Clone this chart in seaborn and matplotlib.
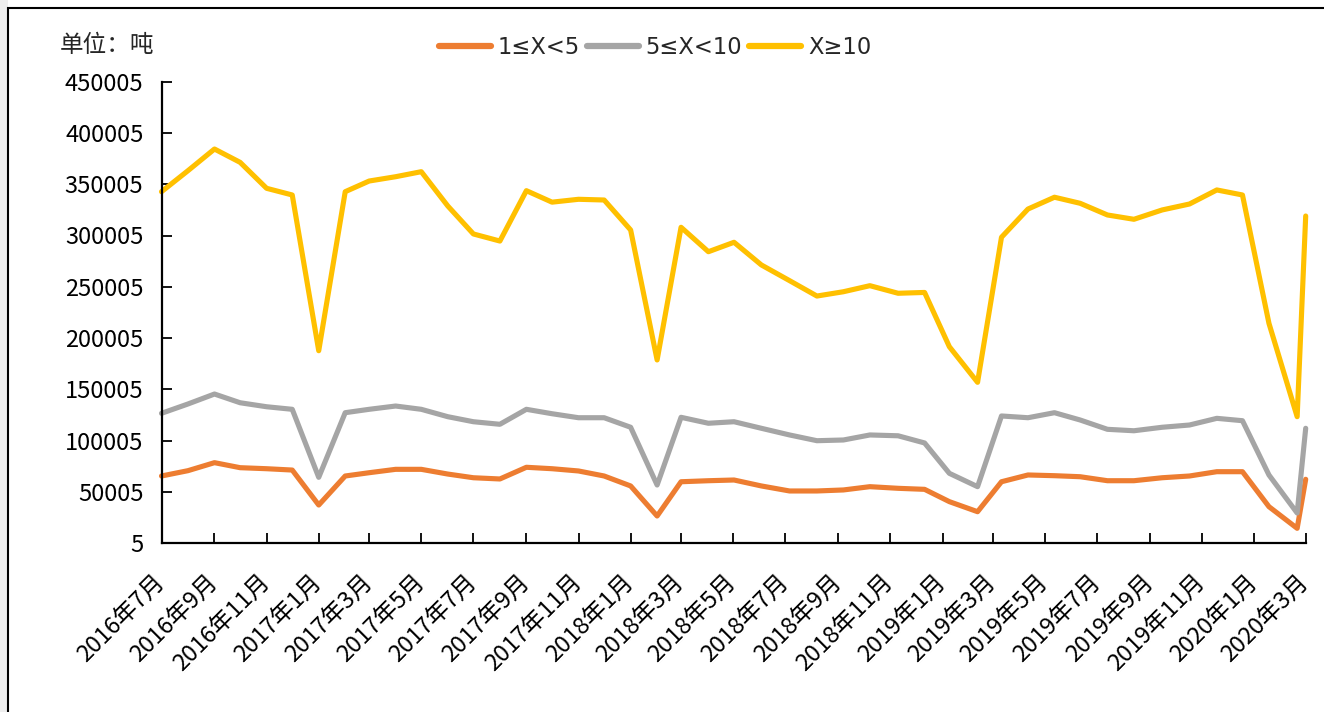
import matplotlib
matplotlib.use("Agg")
import matplotlib.pyplot as plt
from matplotlib.patches import Rectangle
import seaborn as sns
import pandas as pd
import numpy as np

# ---------------- data ----------------
dates = [
    "2016-07-01", "2016-08-01", "2016-09-01", "2016-10-01", "2016-11-01", "2016-12-01",
    "2017-01-01", "2017-02-01", "2017-03-01", "2017-04-01", "2017-05-01", "2017-06-01",
    "2017-07-01", "2017-08-01", "2017-09-01", "2017-10-01", "2017-11-01", "2017-12-01",
    "2018-01-01", "2018-02-01", "2018-03-01", "2018-04-02", "2018-05-02", "2018-06-03",
    "2018-07-06", "2018-08-07", "2018-09-07", "2018-10-08", "2018-11-10", "2018-12-11",
    "2019-01-09", "2019-02-11", "2019-03-11", "2019-04-11", "2019-05-12", "2019-06-11",
    "2019-07-13", "2019-08-13", "2019-09-15", "2019-10-17", "2019-11-18", "2019-12-18",
    "2020-01-18", "2020-02-20", "2020-03-01",
]
s_small = [65600, 70800, 78600, 73700, 72700, 71400, 37300, 65600, 68800, 72100, 72100, 67500,
           63900, 62700, 74100, 72700, 70500, 65600, 55900, 26600, 60000, 61000, 61700, 55900,
           51000, 51000, 52000, 55200, 53600, 52600, 40600, 30800, 60000, 66600, 65900, 64900,
           61000, 61000, 63900, 65600, 69800, 69800, 35700, 14600, 62400]
s_mid = [126700, 135800, 145500, 137000, 133100, 130600, 64300, 127300, 130600, 133800, 130600, 123400,
         118500, 116000, 130600, 126300, 122400, 122400, 113100, 56800, 122800, 117000, 118500, 112100,
         105600, 100000, 100700, 105600, 104800, 97800, 68200, 55200, 124100, 122400, 127300, 120200,
         111100, 109700, 113100, 115300, 121800, 119500, 66600, 29500, 112100]
s_large = [342700, 363200, 384300, 371300, 346000, 339500, 187700, 342700, 353100, 357300, 362200, 328800,
           301500, 294600, 343700, 332500, 335300, 334600, 305400, 178700, 308000, 284200, 293400, 271300,
           256000, 241000, 245200, 251100, 243700, 244500, 191600, 156900, 298300, 325800, 337300, 331400,
           320000, 315800, 324900, 330700, 344400, 339500, 214400, 123400, 319000]
series_names = ["1≤X<5", "5≤X<10", "X≥10"]
series_colors = ["#ED7D31", "#A5A5A5", "#FFC000"]

tick_dates = [
    "2016-07-01", "2016-09-01", "2016-11-01", "2017-01-01", "2017-03-01", "2017-05-01",
    "2017-07-01", "2017-09-01", "2017-11-01", "2018-01-01", "2018-03-01", "2018-05-01",
    "2018-07-01", "2018-09-01", "2018-11-01", "2019-01-01", "2019-03-01", "2019-05-01",
    "2019-07-01", "2019-09-01", "2019-11-01", "2020-01-01", "2020-03-01",
]
tick_labels = [
    "2016年7月", "2016年9月", "2016年11月", "2017年1月", "2017年3月", "2017年5月",
    "2017年7月", "2017年9月", "2017年11月", "2018年1月", "2018年3月", "2018年5月",
    "2018年7月", "2018年9月", "2018年11月", "2019年1月", "2019年3月", "2019年5月",
    "2019年7月", "2019年9月", "2019年11月", "2020年1月", "2020年3月",
]
y_ticks = [5, 50005, 100005, 150005, 200005, 250005, 300005, 350005, 400005, 450005]
unit_label = "单位：吨"

# ---------------- styling ----------------
sns.set_style("ticks")
FONT = ["Noto Sans CJK SC", "DejaVu Sans"]
plt.rcParams["font.family"] = FONT
plt.rcParams["axes.unicode_minus"] = False
FS = 17

W, H = 1324, 712
fig = plt.figure(figsize=(W / 100, H / 100), dpi=100)
fig.patch.set_facecolor("white")

# outer frame like the screenshot
fig.patches.append(Rectangle((0, 0), 8 / W, 1, transform=fig.transFigure,
                             facecolor="#eeeeee", edgecolor="none", zorder=-10))
fig.patches.append(Rectangle((8 / W, -0.1), 1.2, 1.1 - 8 / H, transform=fig.transFigure,
                             facecolor="white", edgecolor="black", linewidth=1.5, zorder=-9))

ax = fig.add_axes([161.5 / W, 1 - 543.3 / H, (1305.7 - 161.5) / W, (543.3 - 81.6) / H])
ax.set_zorder(5)
ax.set_facecolor("none")

df = pd.DataFrame({"date": pd.to_datetime(dates)})
for name, vals, col in zip(series_names, [s_small, s_mid, s_large], series_colors):
    sns.lineplot(x=df["date"], y=vals, ax=ax, color=col, linewidth=3.7, label=name,
                 solid_joinstyle="round", solid_capstyle="round", clip_on=False)

ax.set_xlim(pd.Timestamp(tick_dates[0]), pd.Timestamp(tick_dates[-1]))
ax.set_ylim(y_ticks[0], y_ticks[-1])
ax.set_xticks(pd.to_datetime(tick_dates))
ax.set_xticklabels(tick_labels, rotation=45, ha="right", va="center",
                   rotation_mode="anchor", fontsize=FS)
ax.set_yticks(y_ticks)
ax.set_yticklabels([str(v) for v in y_ticks], fontsize=FS)
ax.set_xlabel("")
ax.set_ylabel("")

for sp in ["top", "right"]:
    ax.spines[sp].set_visible(False)
for sp in ["left", "bottom"]:
    ax.spines[sp].set_color("black")
    ax.spines[sp].set_linewidth(1.6)
ax.tick_params(axis="both", direction="in", length=7, width=1.3, color="black",
               labelcolor="black")
ax.tick_params(axis="y", pad=13)
ax.tick_params(axis="x", pad=26)

ax.get_legend().remove()
handles, labels = ax.get_legend_handles_labels()
leg = fig.legend(handles, labels, loc="center", bbox_to_anchor=(655 / W, 1 - 47 / H),
                 ncol=3, frameon=False, handlelength=2.3,
                 handletextpad=0.3, columnspacing=0.3, borderaxespad=0,
                 prop={"family": ["DejaVu Sans"], "size": 16.3})
for h in leg.get_lines():
    h.set_linewidth(4.5)
    h.set_solid_capstyle("round")

fig.text(60 / W, 1 - 46 / H, unit_label, fontsize=FS, ha="left", va="center")

fig.savefig("out.png", dpi=100)
